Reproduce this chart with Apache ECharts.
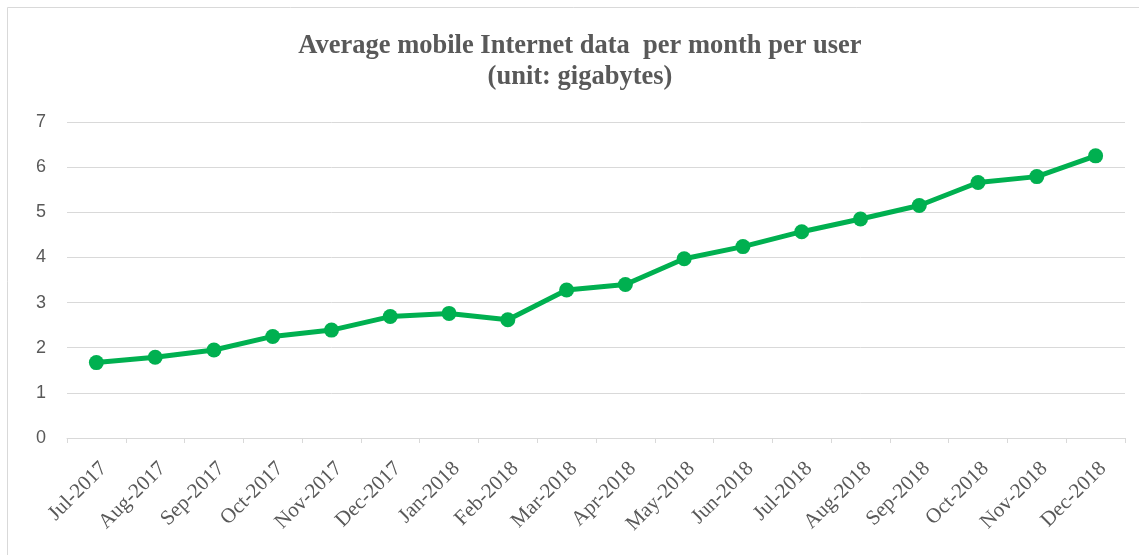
<!DOCTYPE html>
<html>
<head>
<meta charset="utf-8">
<script src="https://cdn.jsdelivr.net/npm/echarts@6/dist/echarts.min.js"></script>
<style>
  html, body { margin: 0; padding: 0; background: #fff; }
  #main { width: 1139px; height: 555px; }
</style>
</head>
<body>
<div id="main"></div>
<script>
const months = [
  'Jul-2017', 'Aug-2017', 'Sep-2017', 'Oct-2017', 'Nov-2017', 'Dec-2017',
  'Jan-2018', 'Feb-2018', 'Mar-2018', 'Apr-2018', 'May-2018', 'Jun-2018',
  'Jul-2018', 'Aug-2018', 'Sep-2018', 'Oct-2018', 'Nov-2018', 'Dec-2018'
]
const dataPerUser = [
  1.67, 1.79, 1.95, 2.25, 2.39, 2.69,
  2.76, 2.62, 3.28, 3.40, 3.97, 4.24,
  4.57, 4.85, 5.15, 5.66, 5.79, 6.25
]
const titleLines = ['Average mobile Internet data  per month per user', '(unit: gigabytes)']

const chart = echarts.init(document.getElementById('main'))
const option = {
  backgroundColor: '#fff',
  animation: false,
  title: {
    text: titleLines.join('\n'),
    left: 575,
    top: 26,
    textAlign: 'center',
    padding: 5,
    textStyle: {
      fontFamily: 'Liberation Serif',
      fontWeight: 'bold',
      fontSize: 26.5,
      color: '#595959',
      lineHeight: 31
    }
  },
  graphic: [
    {
      type: 'rect',
      shape: { x: 7.5, y: 7.5, width: 1140, height: 560 },
      style: { fill: 'none', stroke: '#d9d9d9', lineWidth: 1 },
      silent: true
    }
  ],
  grid: {
    left: 67,
    right: 14,
    top: 122,
    bottom: 117
  },
  xAxis: {
    type: 'category',
    data: months,
    boundaryGap: true,
    axisLine: { lineStyle: { color: '#d9d9d9', width: 1 } },
    axisTick: { show: true, length: 5, lineStyle: { color: '#d9d9d9' } },
    axisLabel: {
      rotate: 45,
      interval: 0,
      margin: 20,
      verticalAlign: 'top',
      fontFamily: 'Liberation Serif',
      fontSize: 21,
      color: '#595959'
    }
  },
  yAxis: {
    type: 'value',
    min: 0,
    max: 7,
    interval: 1,
    axisLine: { show: false },
    axisTick: { show: false },
    splitLine: { lineStyle: { color: '#d9d9d9', width: 1 } },
    axisLabel: {
      margin: 21,
      fontFamily: 'Liberation Sans',
      fontSize: 18,
      color: '#595959'
    }
  },
  series: [
    {
      name: 'Average data per user',
      type: 'line',
      data: dataPerUser,
      symbol: 'circle',
      symbolSize: 15,
      lineStyle: { color: '#00B050', width: 5 },
      itemStyle: { color: '#00B050' }
    }
  ]
}
chart.setOption(option)
</script>
</body>
</html>
